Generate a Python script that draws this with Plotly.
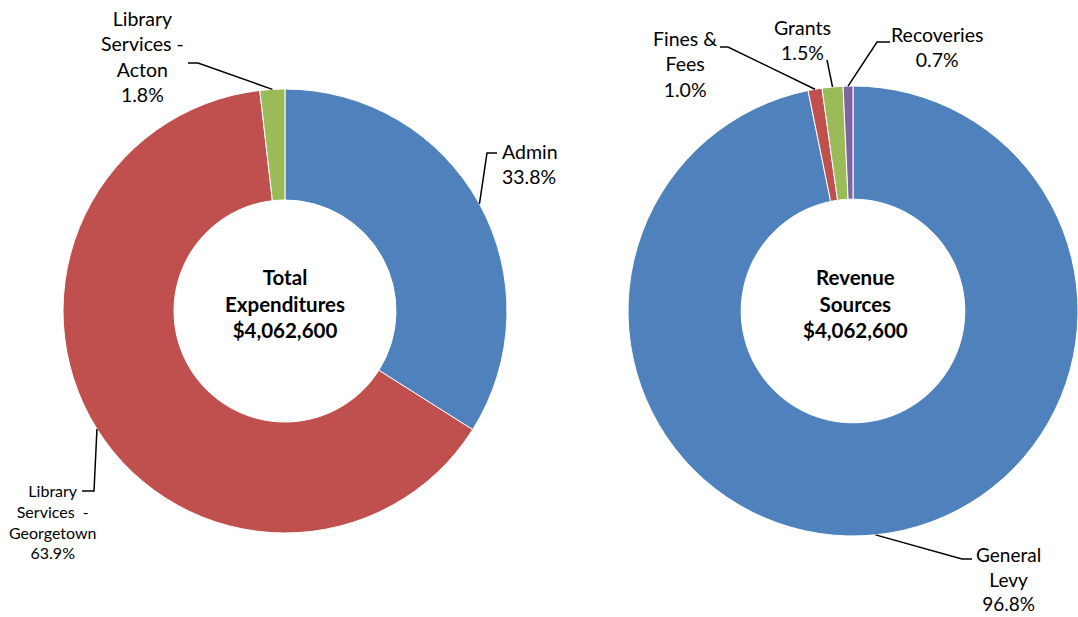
import math
import plotly.graph_objects as go

W, H = 1078, 617

# ---- data ----
exp_labels = ["Admin", "Library Services - Georgetown", "Library Services - Acton"]
exp_values = [33.8, 63.9, 1.8]
exp_colors = ["#4F81BD", "#C0504D", "#9BBB59"]
exp_title = "<b>Total<br>Expenditures<br>$4,062,600</b>"

rev_labels = ["General Levy", "Fines & Fees", "Grants", "Recoveries"]
rev_values = [96.8, 1.0, 1.5, 0.7]
rev_colors = ["#4F81BD", "#C0504D", "#9BBB59", "#8064A2"]
rev_title = "<b>Revenue<br>Sources<br>$4,062,600</b>"

# label texts (as shown in the chart)
exp_text = ["Admin<br>33.8%", "Library<br>Services  -<br>Georgetown<br>63.9%",
            "Library<br>Services -<br>Acton<br>1.8%"]
rev_text = ["General<br>Levy<br>96.8%", "Fines &<br>Fees<br>1.0%", "Grants<br>1.5%",
            "Recoveries<br>0.7%"]

# ---- layout geometry (window pixels) ----
L_CX, L_CY, L_R = 285, 311, 222
R_CX, R_CY, R_R = 853, 311, 225


def px(x):
    return x / W


def py(y):
    return (H - y) / H


def domain(cx, cy, r):
    return dict(x=[px(cx - r), min(1.0, px(cx + r))], y=[py(cy + r), py(cy - r)])


def edge_point(cx, cy, r, values, i):
    tot = sum(values)
    frac = (sum(values[:i]) + values[i] / 2) / tot
    a = frac * 2 * math.pi
    return cx + r * math.sin(a), cy - r * math.cos(a)


fig = go.Figure()
fig.add_trace(go.Pie(
    labels=exp_labels, values=exp_values, sort=False, direction="clockwise",
    rotation=0, hole=0.5, textinfo="none", hoverinfo="label+percent",
    marker=dict(colors=exp_colors, line=dict(color="white", width=1)),
    domain=domain(L_CX, L_CY, L_R), showlegend=False,
))
fig.add_trace(go.Pie(
    labels=rev_labels, values=rev_values, sort=False, direction="clockwise",
    rotation=0, hole=0.497, textinfo="none", hoverinfo="label+percent",
    marker=dict(colors=rev_colors, line=dict(color="white", width=1)),
    domain=domain(R_CX, R_CY, R_R), showlegend=False,
))

FONT = "Lato"
annotations = []
shapes = []


def add_label(text, x, y, size=19.5, align="center", xanchor="center"):
    annotations.append(dict(
        text=text, x=px(x), y=py(y), xref="paper", yref="paper", showarrow=False,
        font=dict(family=FONT, size=size, color="#000000"), align=align,
        xanchor=xanchor, yanchor="middle", borderpad=0,
    ))


def add_leader(start, pts):
    allp = [start] + pts
    d = "M " + " L ".join(f"{px(x):.5f},{py(y):.5f}" for x, y in allp)
    shapes.append(dict(type="path", path=d, xref="paper", yref="paper",
                       line=dict(color="#000000", width=1.5)))


# centre texts
for title, cx in ((exp_title, L_CX), (rev_title, R_CX + 2)):
    annotations.append(dict(text=title, x=px(cx), y=py(303), xref="paper", yref="paper",
                            showarrow=False, font=dict(family=FONT, size=20.5, color="#000"),
                            xanchor="center", yanchor="middle"))

# left labels
add_label(exp_text[0], 501, 164, align="left", xanchor="left")
add_leader(edge_point(L_CX, L_CY, L_R, exp_values, 0), [(487, 153), (497, 153)])
add_label(exp_text[1], 52, 521, size=16)
add_leader(edge_point(L_CX, L_CY, L_R, exp_values, 1), [(94, 491), (82, 491)])
add_label(exp_text[2], 142, 56)
add_leader(edge_point(L_CX, L_CY, L_R, exp_values, 2), [(198, 63), (188, 63)])

# right labels
add_label(rev_text[0], 1008, 579, size=19)
add_leader(edge_point(R_CX, R_CY, R_R, rev_values, 0), [(962, 559), (972, 559)])
add_label(rev_text[1], 685, 64)
add_leader(edge_point(R_CX, R_CY, R_R, rev_values, 1), [(728, 47), (720, 47)])
add_label(rev_text[2], 802, 40)
add_leader(edge_point(R_CX, R_CY, R_R, rev_values, 2), [(827, 60)])
add_label(rev_text[3], 937, 47)
add_leader(edge_point(R_CX, R_CY, R_R, rev_values, 3), [(877, 42), (890, 42)])

fig.update_layout(
    width=W, height=H, margin=dict(l=0, r=0, t=0, b=0),
    paper_bgcolor="white", plot_bgcolor="white",
    annotations=annotations, shapes=shapes, showlegend=False,
)

fig.write_html(
    "out.html",
    config={"displayModeBar": False},
    post_script="document.documentElement.style.overflow='hidden';"
                "document.body.style.margin='0';document.body.style.overflow='hidden';",
)
